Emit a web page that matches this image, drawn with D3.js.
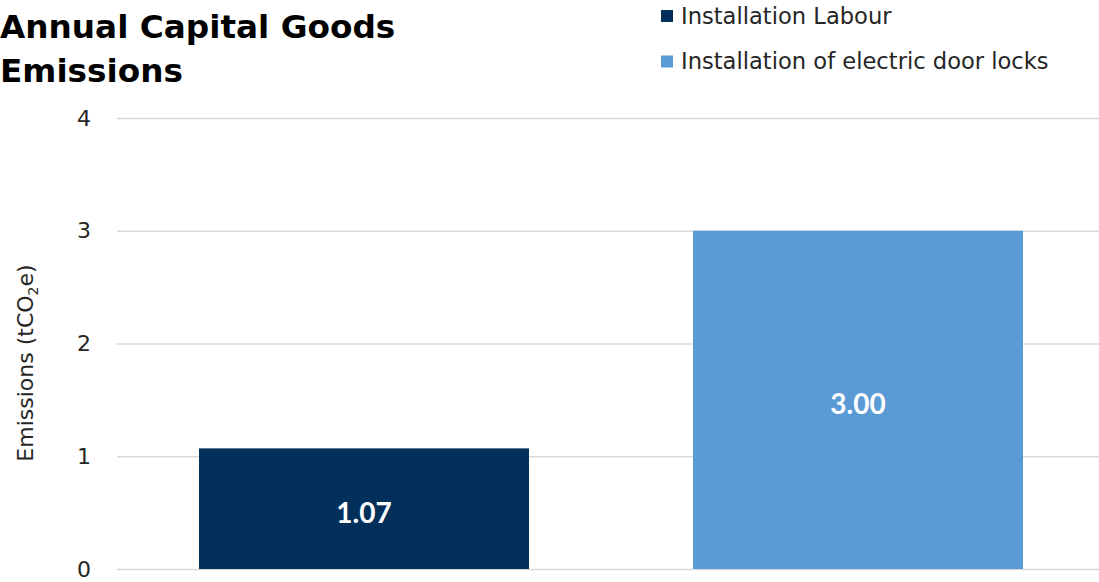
<!DOCTYPE html>
<html>
<head>
<meta charset="utf-8">
<script src="https://cdn.jsdelivr.net/npm/d3@7"></script>
<style>
  html, body { margin: 0; padding: 0; background: #fff; }
  svg { display: block; }
  text { font-family: "DejaVu Sans", sans-serif; }
</style>
</head>
<body>
<svg id="chart" width="1099" height="582"></svg>
<script>
// Chart data
const categories = ["Installation Labour", "Installation of electric door locks"];
const values = [1.07, 3.00];
const colors = ["#03305b", "#5b9bd5"];
const yTicks = [0, 1, 2, 3, 4];
const titleLines = ["Annual Capital Goods", "Emissions"];

const svg = d3.select("#chart");
const W = 1099, H = 582;
const margin = { left: 117 };

const x = d3.scaleBand()
  .domain(categories)
  .range([margin.left, 1105])
  .paddingInner(0.332)
  .paddingOuter(0.166);

const y = d3.scaleLinear()
  .domain([0, 4])
  .range([569, 118]);

// Gridlines and tick labels
const yAxis = d3.axisLeft(y)
  .tickValues(yTicks)
  .tickSize(-(W - margin.left))
  .tickPadding(26)
  .tickFormat(d3.format("d"));

const gAxis = svg.append("g")
  .attr("transform", `translate(${margin.left},0)`)
  .call(yAxis);
gAxis.select(".domain").remove();
gAxis.selectAll(".tick line")
  .attr("stroke", "#d9d9d9")
  .attr("stroke-width", 1.5);
gAxis.selectAll(".tick text")
  .attr("fill", "#262626")
  .style("font-size", "22px")
  .style("font-family", "DejaVu Sans, sans-serif");

// Bars
svg.append("g").selectAll("rect")
  .data(values)
  .join("rect")
  .attr("x", (d, i) => x(categories[i]))
  .attr("y", d => y(d))
  .attr("width", x.bandwidth())
  .attr("height", d => y(0) - y(d))
  .attr("fill", (d, i) => colors[i]);

// Value labels in the middle of each bar
svg.append("g").selectAll("text")
  .data(values)
  .join("text")
  .attr("x", (d, i) => x(categories[i]) + x.bandwidth() / 2)
  .attr("y", d => (y(d) + y(0)) / 2)
  .attr("dy", "0.5em")
  .attr("text-anchor", "middle")
  .attr("fill", "#ffffff")
  .style("font-family", "Lato, sans-serif")
  .style("font-size", "28px")
  .style("font-weight", "bold")
  .text(d => d3.format(".2f")(d));

// Y axis title
const yTitle = svg.append("text")
  .attr("transform", "translate(33,363) rotate(-90)")
  .attr("text-anchor", "middle")
  .attr("fill", "#262626")
  .style("font-size", "22px");
yTitle.append("tspan").text("Emissions (tCO");
yTitle.append("tspan").attr("dy", 5).style("font-size", "14px").text("2");
yTitle.append("tspan").attr("dy", -5).text("e)");

// Chart title
svg.append("g").selectAll("text")
  .data(titleLines)
  .join("text")
  .attr("x", 0)
  .attr("y", (d, i) => 38 + i * 44)
  .attr("fill", "#000")
  .style("font-size", "32.7px")
  .style("font-weight", "bold")
  .text(d => d);

// Legend
const legend = svg.append("g").selectAll("g")
  .data(categories)
  .join("g")
  .attr("transform", (d, i) => `translate(661,${10 + i * 45.5})`);
legend.append("rect")
  .attr("width", 12)
  .attr("height", 12)
  .attr("fill", (d, i) => colors[i]);
legend.append("text")
  .attr("x", 20)
  .attr("y", 6)
  .attr("dy", "0.35em")
  .attr("fill", "#262626")
  .style("font-size", "22.6px")
  .text(d => d);
</script>
</body>
</html>
